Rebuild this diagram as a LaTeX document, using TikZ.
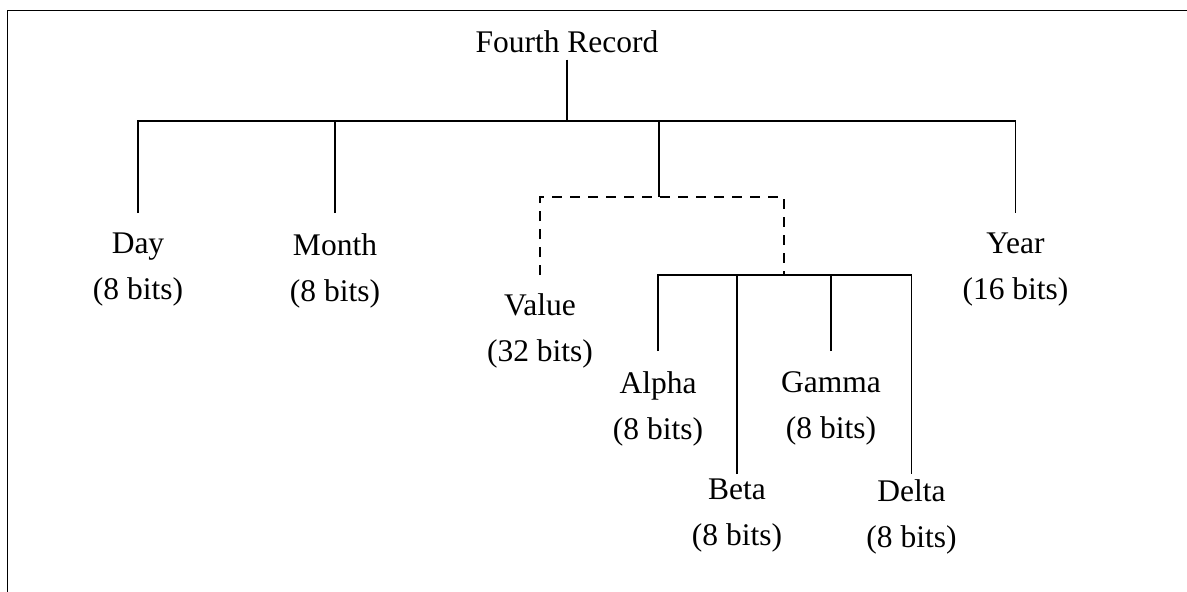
\documentclass[tikz,border=0pt]{standalone}
\usepackage{fontspec}
\setmainfont{Liberation Serif}
\begin{document}
\begin{tikzpicture}[x=1pt,y=-1pt,
  every node/.style={font=\fontsize{31.5}{46}\selectfont},
  field/.style={anchor=north,align=center,inner xsep=0pt,inner ysep=20pt},
  subfield/.style={field,inner ysep=5pt},
  link/.style={line width=1.1pt},
  maybe/.style={link,dash pattern=on 10pt off 8pt}]
  \useasboundingbox (0,0) rectangle (1187,592);
  % frame, cut off at the right and the bottom
  \draw[line width=1.6pt] (7.5,592) -- (7.5,10.5) -- (1187,10.5);
  % the record and its fields
  \node[anchor=base,inner ysep=7pt] (record) at (567,52) {Fourth Record};
  \node[field] (day) at (138,213) {Day\\(8 bits)};
  \node[field] (month) at (335,213) {Month\\(8 bits)};
  \node[field,inner ysep=18pt] (value) at (540,275) {Value\\(32 bits)};
  \node[field] (year) at (1015.5,213) {Year\\(16 bits)};
  % the four parts of the value
  \node[field] (alpha) at (658,351) {Alpha\\(8 bits)};
  \node[subfield] (beta) at (737,474) {Beta\\(8 bits)};
  \node[field] (gamma) at (831,351) {Gamma\\(8 bits)};
  \node[subfield] (delta) at (911.5,474) {Delta\\(8 bits)};
  \coordinate (bus) at (567,121);
  \coordinate (join) at (659,197);
  \coordinate (subbus) at (784,275);
  % connectors
  \draw[link] (record.south) -- (bus);
  \draw[link] (day.north) -- (day.north |- bus) -- (year.north |- bus) -- (year.north);
  \draw[link] (month.north) -- (month.north |- bus);
  \draw[link] (join |- bus) -- (join);
  \draw[maybe] (value.north) |- (subbus |- join) -- (subbus);
  \draw[link] (alpha.north) -- (alpha.north |- subbus) -- (delta.north |- subbus) -- (delta.north);
  \draw[link] (beta.north) -- (beta.north |- subbus);
  \draw[link] (gamma.north) -- (gamma.north |- subbus);
\end{tikzpicture}
\end{document}
